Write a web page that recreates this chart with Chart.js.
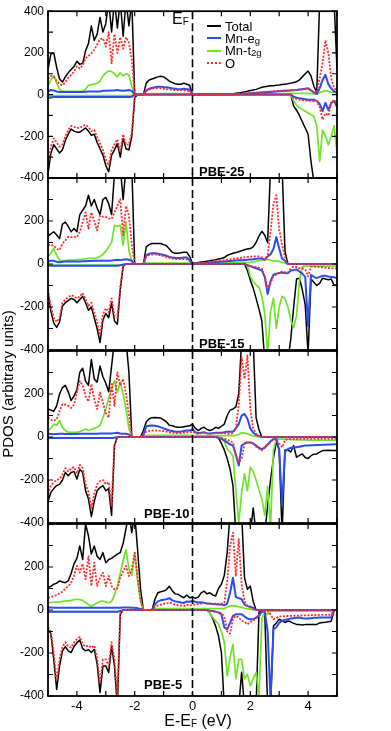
<!DOCTYPE html>
<html>
<head>
<meta charset="utf-8">
<script src="https://cdn.jsdelivr.net/npm/chart.js@4.4.1/dist/chart.umd.min.js"></script>
<style>
  body { margin: 0; background: #fff; width: 391px; height: 731px; position: relative; overflow: hidden;
         font-family: "Liberation Sans", Arial, sans-serif; color: #000; }
  canvas { position: absolute; left: 0; top: 0; }
  .txt { position: absolute; z-index: 5; white-space: nowrap; }
  .pbe { font-weight: bold; font-size: 13px; line-height: 14px; }
  .sub { font-size: 9.5px; position: relative; top: 2px; }
  #legend { left: 207px; top: 20px; font-size: 13px; }
  #legend .row { display: flex; align-items: center; height: 12.3px; }
  #legend .sw { display: inline-block; width: 14px; margin-right: 4px; }
</style>
</head>
<body>
<canvas id="p0" width="391" height="731"></canvas>
<canvas id="p1" width="391" height="731"></canvas>
<canvas id="p2" width="391" height="731"></canvas>
<canvas id="p3" width="391" height="731"></canvas>

<div class="txt" style="left:172px;top:10px;font-size:16px;">E<span class="sub" style="font-size:10px;top:1px">F</span></div>
<div class="txt" id="legend">
  <div class="row"><span class="sw" style="border-top:2px solid #000"></span>Total</div>
  <div class="row"><span class="sw" style="border-top:2px solid #2a4cf0"></span>Mn-e<span class="sub">g</span></div>
  <div class="row"><span class="sw" style="border-top:2px solid #6fe32a"></span>Mn-t<span class="sub">2g</span></div>
  <div class="row"><span class="sw" style="border-top:2px dotted #ff2b2b"></span>O</div>
</div>
<div class="txt pbe" style="left:199px;top:165px;">PBE-25</div>
<div class="txt pbe" style="left:199px;top:337px;">PBE-15</div>
<div class="txt pbe" style="left:144px;top:507px;">PBE-10</div>
<div class="txt pbe" style="left:144px;top:678px;">PBE-5</div>
<div class="txt" style="left:-92px;top:375px;width:200px;height:18px;text-align:center;font-size:15px;line-height:18px;transform:rotate(-90deg);">PDOS (arbitrary units)</div>
<div class="txt" style="left:98px;top:712px;width:200px;text-align:center;font-size:16px;line-height:18px;">E-E<span class="sub" style="font-size:10px;top:1px">F</span> (eV)</div>

<script>
// energy grid (eV) shared by all curves
const energy = [
  -5,-4.9,-4.8,-4.7,-4.6,-4.5,-4.4,-4.3,-4.2,-4.1,
  -4,-3.9,-3.8,-3.7,-3.6,-3.5,-3.4,-3.3,-3.2,-3.1,
  -3,-2.9,-2.8,-2.7,-2.6,-2.5,-2.4,-2.3,-2.2,-2.1,
  -2,-1.9,-1.8,-1.7,-1.6,-1.5,-1.4,-1.3,-1.2,-1.1,
  -1,-0.9,-0.8,-0.7,-0.6,-0.5,-0.4,-0.3,-0.2,-0.1,
  0,0.1,0.2,0.3,0.4,0.5,0.6,0.7,0.8,0.9,
  1,1.1,1.2,1.3,1.4,1.5,1.6,1.7,1.8,1.9,
  2,2.1,2.2,2.3,2.4,2.5,2.6,2.7,2.8,2.9,
  3,3.1,3.2,3.3,3.4,3.5,3.6,3.7,3.8,3.9,
  4,4.1,4.2,4.3,4.4,4.5,4.6,4.7,4.8,4.9,
  5
];
const xTicks = [-5,-4,-3,-2,-1,0,1,2,3,4,5];
const yTicks = [-400,-300,-200,-100,0,100,200,300,400];
const panelNames = ['PBE-25','PBE-15','PBE-10','PBE-5'];

// ---------- PBE-25 ----------
const totUp25 = [
  120,195,200,130,75,60,85,105,120,135,
  160,145,150,210,245,330,260,290,370,300,
  340,450,300,450,320,450,280,450,330,450,
  0,0,0,0,55,70,75,80,85,88,
  85,75,65,58,52,50,50,55,50,45,
  0,0,0,0,0,0,0,0,0,0,
  0,0,0,0,3,6,8,10,13,16,
  20,22,25,30,35,38,40,42,43,45,
  46,48,50,52,55,58,62,70,85,100,
  113,90,40,10,450,450,450,450,450,450,
  120];
const egUp25 = [
  15,22,20,15,12,12,12,12,12,12,
  12,12,12,14,15,15,15,15,15,18,
  18,18,20,20,22,20,18,20,22,18,
  0,0,0,0,20,28,32,35,38,38,
  36,35,33,30,28,26,26,28,26,24,
  0,0,0,0,0,0,0,0,0,0,
  0,0,0,0,1,2,3,3,4,5,
  6,7,8,9,10,11,12,13,14,15,
  16,17,18,19,20,21,22,24,26,28,
  30,20,10,3,30,70,95,50,30,15,
  10];
const t2gUp25 = [
  43,70,90,55,25,15,15,15,15,15,
  15,15,18,25,45,48,50,55,65,90,
  105,113,110,100,85,105,90,100,95,40,
  0,0,0,0,3,4,5,5,5,5,
  5,5,5,5,5,5,5,5,5,4,
  0,0,0,0,0,0,0,0,0,0,
  0,0,0,0,0,0,0,0,0,0,
  1,1,2,2,3,3,3,4,4,4,
  4,5,5,5,5,6,6,6,6,6,
  6,5,3,2,10,15,20,15,10,10,
  8];
const oUp25 = [
  75,90,85,65,50,45,60,80,95,110,
  136,125,140,175,185,198,215,240,265,270,
  230,300,150,290,200,275,220,275,250,167,
  0,0,0,0,18,25,28,30,30,30,
  28,26,24,22,22,22,22,20,18,16,
  0,0,0,0,0,0,0,0,0,0,
  0,0,0,0,2,3,4,5,6,7,
  8,9,10,11,12,13,14,15,16,17,
  18,19,20,20,21,22,23,24,25,27,
  28,20,10,10,80,150,260,200,80,30,
  20];
const totDn25 = [
  -380,-280,-240,-260,-280,-265,-220,-190,-165,-175,
  -180,-180,-170,-160,-175,-195,-190,-230,-260,-290,
  -340,-370,-290,-265,-235,-300,-210,-260,-265,-200,
  -15,0,0,0,0,0,0,0,0,0,
  0,0,0,0,0,0,0,0,0,0,
  0,0,0,0,0,0,0,0,0,0,
  0,0,0,0,0,0,0,0,0,0,
  0,0,0,0,0,0,0,0,0,0,
  0,0,0,0,0,-55,-75,-100,-130,-160,
  -190,-320,-420,-450,-450,-450,-450,-450,-450,-450,
  -450];
const egDn25 = [
  -18,-14,-12,-12,-12,-12,-12,-12,-12,-12,
  -12,-12,-12,-12,-12,-12,-12,-12,-12,-12,
  -12,-12,-12,-12,-12,-12,-12,-12,-12,-10,
  0,0,0,0,0,0,0,0,0,0,
  0,0,0,0,0,0,0,0,0,0,
  0,0,0,0,0,0,0,0,0,0,
  0,0,0,0,0,0,0,0,0,0,
  0,0,0,0,0,0,0,0,0,0,
  0,0,0,0,0,-10,-15,-18,-20,-22,
  -25,-25,-25,-30,-45,-80,-40,-75,-40,-30,
  -60];
const t2gDn25 = [
  -10,-6,-5,-5,-5,-5,-5,-5,-5,-5,
  -5,-5,-5,-5,-5,-5,-5,-5,-5,-5,
  -5,-5,-5,-5,-5,-5,-5,-5,-5,-4,
  0,0,0,0,0,0,0,0,0,0,
  0,0,0,0,0,0,0,0,0,0,
  0,0,0,0,0,0,0,0,0,0,
  0,0,0,0,0,0,0,0,0,0,
  0,0,0,0,0,0,0,0,0,0,
  0,0,0,0,0,-30,-50,-62,-72,-80,
  -88,-95,-105,-150,-320,-170,-200,-240,-200,-150,
  -280];
const oDn25 = [
  -330,-250,-210,-230,-250,-240,-200,-170,-150,-155,
  -160,-160,-150,-145,-155,-175,-170,-205,-235,-265,
  -310,-340,-265,-240,-215,-275,-190,-240,-240,-180,
  -12,0,0,0,0,0,0,0,0,0,
  0,0,0,0,0,0,0,0,0,0,
  0,0,0,0,0,0,0,0,0,0,
  0,0,0,0,0,0,0,0,0,0,
  0,0,0,0,0,0,0,0,0,0,
  0,0,0,0,0,-18,-20,-24,-26,-28,
  -30,-30,-32,-30,-60,-120,-90,-100,-40,-25,
  -50];

// ---------- PBE-15 ----------
const totUp15 = [
  130,140,150,135,118,185,195,175,150,165,
  150,230,250,270,320,270,300,260,230,300,
  310,280,230,420,450,450,300,450,450,450,
  0,0,0,0,80,90,95,95,95,95,
  90,85,70,55,50,50,52,55,55,35,
  3,5,7,9,11,13,15,18,20,23,
  26,30,40,45,50,53,57,62,66,70,
  72,80,100,130,152,134,100,450,450,450,
  450,450,60,0,0,0,0,0,0,0,
  0,0,0,0,0,0,0,0,0,0,
  0];
const egUp15 = [
  12,15,15,10,8,10,12,12,12,12,
  12,12,13,13,14,14,15,15,15,15,
  15,15,16,18,20,18,20,22,20,15,
  0,0,0,0,40,48,50,50,48,45,
  42,38,33,30,28,28,28,30,30,18,
  1,2,3,4,5,6,7,8,9,10,
  11,12,13,14,15,16,17,18,19,20,
  21,22,24,26,25,20,35,45,70,125,
  72,25,15,0,0,0,0,0,0,0,
  0,0,0,0,0,0,0,0,0,0,
  0];
const t2gUp15 = [
  34,50,72,40,18,15,16,18,18,18,
  20,20,22,24,26,26,26,28,35,45,
  60,80,100,180,175,180,88,195,65,10,
  0,0,0,0,4,4,4,4,4,4,
  4,4,4,4,4,4,4,4,4,3,
  1,1,2,2,2,3,3,3,3,4,
  4,4,5,5,5,5,6,6,6,7,
  8,10,12,15,18,20,20,18,15,15,
  12,8,4,0,0,0,0,0,0,0,
  0,0,0,0,0,0,0,0,0,0,
  0];
const oUp15 = [
  88,90,85,70,65,95,110,126,125,126,
  125,150,195,240,165,240,200,156,225,220,
  218,212,210,240,270,302,134,270,225,88,
  0,0,0,0,35,42,44,45,43,40,
  36,32,28,25,23,23,23,23,22,14,
  2,3,4,5,6,7,9,10,12,14,
  15,18,20,22,24,25,27,29,31,33,
  34,35,36,35,30,20,40,150,280,320,
  160,90,30,0,0,0,0,0,0,0,
  0,0,0,0,0,0,0,0,0,0,
  0];
const totDn15 = [
  -130,-220,-275,-295,-270,-195,-180,-170,-160,-165,
  -180,-165,-150,-180,-215,-200,-250,-300,-365,-260,
  -230,-250,-180,-265,-280,-120,-10,0,0,0,
  0,0,0,0,0,0,0,0,0,0,
  0,0,0,0,0,0,0,0,0,0,
  0,0,0,0,0,0,0,0,0,0,
  0,0,0,0,0,0,0,0,0,-30,
  -75,-112,-160,-210,-265,-450,-450,-450,-450,-450,
  -450,-450,-450,-450,-350,-200,-70,-66,-120,-190,
  -420,-70,-85,-100,-90,-66,-70,-73,-70,-100,
  -95];
const egDn15 = [
  -8,-8,-8,-8,-8,-8,-8,-8,-8,-8,
  -8,-8,-8,-8,-8,-8,-8,-8,-8,-8,
  -8,-8,-8,-8,-8,-6,-3,0,0,0,
  0,0,0,0,0,0,0,0,0,0,
  0,0,0,0,0,0,0,0,0,0,
  0,0,0,0,0,0,0,0,0,0,
  0,0,0,0,0,0,0,0,0,-5,
  -10,-15,-20,-25,-30,-60,-140,-80,-50,-45,
  -42,-40,-42,-43,-30,-28,-25,-35,-45,-60,
  -290,-50,-60,-66,-60,-55,-55,-58,-60,-62,
  -66];
const t2gDn15 = [
  -5,-5,-5,-5,-5,-5,-5,-5,-5,-5,
  -5,-5,-5,-5,-5,-5,-5,-5,-5,-5,
  -5,-5,-5,-5,-5,-4,-2,0,0,0,
  0,0,0,0,0,0,0,0,0,0,
  0,0,0,0,0,0,0,0,0,0,
  0,0,0,0,0,0,0,0,0,0,
  0,0,0,0,0,0,0,0,0,-5,
  -58,-80,-97,-108,-150,-230,-420,-220,-160,-300,
  -200,-150,-160,-200,-260,-296,-240,-80,-12,-10,
  -10,-10,-10,-10,-10,-10,-10,-10,-10,-10,
  -10];
const oDn15 = [
  -120,-200,-250,-270,-250,-180,-165,-155,-145,-150,
  -160,-150,-135,-165,-195,-180,-225,-270,-330,-235,
  -205,-225,-160,-240,-250,-105,-8,0,0,0,
  0,0,0,0,0,0,0,0,0,0,
  0,0,0,0,0,0,0,0,0,0,
  0,0,0,0,0,0,0,0,0,0,
  0,0,0,0,0,0,0,0,0,-5,
  -10,-12,-15,-18,-22,-60,-110,-90,-55,-50,
  -40,-35,-38,-40,-20,-12,-15,-20,-20,-25,
  -58,-12,-12,-14,-15,-15,-18,-18,-20,-20,
  -20];

// ---------- PBE-10 ----------
const totUp10 = [
  130,125,120,145,200,230,240,210,170,190,
  220,300,320,260,240,360,270,255,330,280,
  250,210,330,450,420,450,450,450,300,0,
  0,0,0,30,70,85,90,91,90,88,
  80,70,55,52,48,45,45,48,50,52,
  60,40,30,40,45,35,30,35,45,40,
  50,60,100,125,130,140,200,450,450,450,
  450,450,90,35,0,0,0,0,0,0,
  0,0,0,0,0,0,0,0,0,0,
  0,0,0,0,0,0,0,0,0,0,
  0];
const egUp10 = [
  15,14,13,14,15,15,14,14,14,14,
  14,15,15,15,15,15,15,15,16,16,
  16,16,16,18,20,16,15,15,12,0,
  0,0,0,10,50,52,53,52,50,45,
  40,35,30,28,25,25,25,28,30,30,
  35,22,18,20,22,18,16,18,20,20,
  20,22,25,25,25,40,60,100,107,85,
  40,20,10,5,0,0,0,0,0,0,
  0,0,0,0,0,0,0,0,0,0,
  0,0,0,0,0,0,0,0,0,0,
  0];
const t2gUp10 = [
  30,40,60,55,76,45,30,22,22,22,
  22,25,30,37,30,35,40,45,53,90,
  130,180,223,262,208,255,200,130,40,0,
  0,0,0,4,8,8,8,8,8,8,
  8,8,8,8,8,8,8,8,8,8,
  6,6,6,6,6,6,6,6,6,6,
  6,6,6,6,6,8,12,20,18,15,
  10,5,3,0,0,0,0,0,0,0,
  0,0,0,0,0,0,0,0,0,0,
  0,0,0,0,0,0,0,0,0,0,
  0];
const oUp10 = [
  91,80,75,83,120,153,150,145,135,150,
  207,260,240,190,165,246,176,130,207,160,
  110,90,254,145,300,240,270,200,100,0,
  0,0,0,10,25,28,30,30,30,28,
  27,25,22,20,18,18,18,20,22,22,
  25,18,15,18,20,16,14,16,18,18,
  18,18,16,15,18,40,150,370,270,380,
  130,40,15,5,0,0,0,0,0,0,
  0,0,0,0,0,0,0,0,0,0,
  0,0,0,0,0,0,0,0,0,0,
  0];
const totDn10 = [
  -300,-257,-240,-226,-220,-200,-165,-180,-165,-160,
  -195,-150,-165,-250,-288,-370,-300,-250,-235,-226,
  -250,-240,-365,-40,0,0,0,0,0,0,
  0,0,0,0,0,0,0,0,0,0,
  0,0,0,0,0,0,0,0,0,0,
  0,0,0,0,0,0,0,0,0,-5,
  -30,-60,-100,-150,-226,-450,-450,-450,-450,-450,
  -450,-330,-450,-450,-450,-450,-320,-200,-100,-20,
  -60,-450,-60,-60,-70,-40,-94,-85,-79,-95,
  -100,-87,-80,-79,-70,-63,-63,-62,-63,-63,
  -63];
const egDn10 = [
  -5,-5,-5,-5,-5,-5,-5,-5,-5,-5,
  -5,-5,-5,-5,-5,-5,-5,-5,-5,-5,
  -5,-5,-5,-3,0,0,0,0,0,0,
  0,0,0,0,0,0,0,0,0,0,
  0,0,0,0,0,0,0,0,0,0,
  0,0,0,0,0,0,0,0,0,-3,
  -9,-15,-25,-35,-40,-80,-133,-40,-30,-25,
  -25,-30,-40,-50,-56,-50,-35,-20,-10,-9,
  -60,-318,-70,-56,-50,-48,-48,-45,-42,-40,
  -40,-38,-38,-37,-37,-36,-36,-35,-35,-34,
  -34];
const t2gDn10 = [
  -5,-5,-5,-5,-5,-5,-5,-5,-5,-5,
  -5,-5,-5,-5,-5,-5,-5,-5,-5,-5,
  -5,-5,-5,-3,0,0,0,0,0,0,
  0,0,0,0,0,0,0,0,0,0,
  0,0,0,0,0,0,0,0,0,0,
  0,0,0,0,0,0,0,0,0,-3,
  -9,-20,-56,-70,-87,-250,-400,-260,-172,-250,
  -140,-160,-200,-245,-288,-365,-230,-420,-60,-10,
  -10,-10,-10,-10,-12,-12,-13,-13,-14,-14,
  -15,-15,-15,-15,-15,-15,-15,-15,-15,-15,
  -15];
const oDn10 = [
  -265,-225,-210,-200,-195,-175,-145,-160,-145,-140,
  -170,-130,-145,-220,-255,-330,-265,-220,-205,-200,
  -220,-210,-320,-35,0,0,0,0,0,0,
  0,0,0,0,0,0,0,0,0,0,
  0,0,0,0,0,0,0,0,0,0,
  0,0,0,0,0,0,0,0,0,-2,
  -3,-8,-12,-20,-25,-90,-118,-100,-30,-25,
  -25,-30,-45,-55,-63,-45,-35,-25,-10,-10,
  -30,-48,-15,-10,-9,-9,-9,-9,-9,-9,
  -9,-9,-9,-9,-9,-9,-9,-9,-9,-9,
  -9];

// ---------- PBE-5 ----------
const totUp5 = [
  104,110,120,125,135,130,127,135,170,215,
  240,298,235,400,345,260,298,250,235,267,
  220,235,240,251,260,267,310,380,450,360,
  450,280,100,0,0,0,0,50,80,85,
  88,95,110,90,75,73,65,57,70,57,
  60,55,60,80,88,75,80,70,65,100,
  120,160,267,450,450,450,450,450,150,96,
  111,40,0,0,0,0,0,0,0,0,
  0,0,0,0,0,0,0,0,0,0,
  0,0,0,0,0,0,0,0,0,0,
  0];
const egUp5 = [
  12,12,11,11,10,10,10,10,10,10,
  10,10,10,10,10,10,10,10,10,10,
  10,10,10,10,10,10,12,12,12,10,
  10,8,5,0,0,0,0,25,40,45,
  48,50,55,45,40,38,35,33,40,38,
  42,38,35,36,34,30,30,28,27,26,
  25,22,30,80,150,60,55,50,25,18,
  15,10,0,0,0,0,0,0,0,0,
  0,0,0,0,0,0,0,0,0,0,
  0,0,0,0,0,0,0,0,0,0,
  0];
const t2gUp5 = [
  34,35,36,37,38,40,42,42,45,48,
  50,48,45,35,25,18,25,32,40,42,
  38,34,40,70,110,170,230,280,190,160,
  267,140,40,0,0,0,0,5,6,6,
  6,6,6,6,6,6,6,6,6,6,
  6,6,6,6,6,6,6,6,6,6,
  6,6,15,18,20,18,15,12,8,5,
  4,2,0,0,0,0,0,0,0,0,
  0,0,0,0,0,0,0,0,0,0,
  0,0,0,0,0,0,0,0,0,0,
  0];
const oUp5 = [
  57,60,65,70,78,85,100,111,125,160,
  205,174,215,143,251,112,220,112,150,174,
  111,158,110,96,100,150,180,205,158,190,
  267,150,50,0,0,0,0,15,20,25,
  28,30,35,30,25,22,20,18,25,20,
  26,25,28,30,33,30,28,30,30,28,
  30,34,130,300,360,160,330,120,40,20,
  10,5,0,0,0,0,0,0,0,0,
  0,0,0,0,0,0,0,0,0,0,
  0,0,0,0,0,0,0,0,0,0,
  0];
const totDn5 = [
  -90,-110,-230,-370,-260,-190,-170,-190,-198,-170,
  -152,-140,-180,-190,-185,-198,-183,-250,-384,-260,
  -260,-291,-167,-260,-450,-20,0,0,0,0,
  0,0,0,0,0,0,0,0,0,0,
  0,0,0,0,0,0,0,0,0,0,
  0,0,0,0,0,0,-15,-40,-75,-121,
  -198,-450,-450,-450,-450,-450,-450,-290,-450,-450,
  -450,-450,-450,-10,-5,-10,-450,-450,-75,-60,
  -43,-50,-58,-51,-55,-62,-67,-68,-70,-68,
  -67,-68,-67,-67,-60,-58,-57,-55,-52,0,
  0];
const egDn5 = [
  -8,-8,-8,-8,-8,-8,-8,-8,-8,-8,
  -8,-8,-8,-8,-8,-8,-8,-8,-8,-8,
  -8,-8,-8,-8,-8,-5,0,0,0,0,
  0,0,0,0,0,0,0,0,0,0,
  0,0,0,0,0,0,0,0,0,0,
  0,0,0,0,0,0,-3,-5,-8,-12,
  -20,-80,-90,-60,-27,-20,-20,-20,-30,-40,
  -43,-43,-35,-25,-8,-5,-100,-420,-90,-80,
  -60,-50,-45,-43,-40,-38,-36,-35,-38,-40,
  -40,-38,-36,-36,-35,-35,-35,-35,-35,0,
  0];
const t2gDn5 = [
  -8,-8,-8,-8,-8,-8,-8,-8,-8,-8,
  -8,-8,-8,-8,-8,-8,-8,-8,-8,-8,
  -8,-8,-8,-8,-8,-5,0,0,0,0,
  0,0,0,0,0,0,0,0,0,0,
  0,0,0,0,0,0,0,0,0,0,
  0,0,0,0,0,-3,-15,-35,-51,-65,
  -100,-150,-307,-220,-160,-320,-230,-230,-320,-300,
  -353,-320,-290,-400,-40,-10,-20,-5,-5,-5,
  -5,-5,-5,-5,-5,-5,-5,-5,-5,-5,
  -5,-5,-5,-5,-5,-5,-5,-5,-6,0,
  0];
const oDn5 = [
  -80,-100,-200,-330,-230,-170,-150,-170,-175,-150,
  -135,-125,-160,-170,-165,-175,-165,-225,-340,-230,
  -230,-260,-150,-230,-400,-18,0,0,0,0,
  0,0,0,0,0,0,0,0,0,0,
  0,0,0,0,0,0,0,0,0,0,
  0,0,0,0,0,0,-3,-5,-8,-10,
  -15,-30,-100,-110,-40,-28,-35,-50,-55,-67,
  -55,-50,-38,-30,-9,-6,-5,-20,-43,-38,
  -30,-30,-28,-28,-27,-27,-26,-26,-25,-25,
  -25,-24,-24,-24,-23,-23,-23,-22,-22,0,
  0];

// series order: Total, Mn-eg, Mn-t2g, O  (spin up / spin down)
const panelData = [
  { up: [totUp25, egUp25, t2gUp25, oUp25], dn: [totDn25, egDn25, t2gDn25, oDn25] },
  { up: [totUp15, egUp15, t2gUp15, oUp15], dn: [totDn15, egDn15, t2gDn15, oDn15] },
  { up: [totUp10, egUp10, t2gUp10, oUp10], dn: [totDn10, egDn10, t2gDn10, oDn10] },
  { up: [totUp5, egUp5, t2gUp5, oUp5], dn: [totDn5, egDn5, t2gDn5, oDn5] }
];

const series = [
  { name: 'Total',  color: '#000000', width: 1.5, dash: [],       order: 4 },
  { name: 'Mn-eg',  color: '#2a4cf0', width: 2,   dash: [],       order: 2 },
  { name: 'Mn-t2g', color: '#6fe32a', width: 1.7, dash: [],       order: 3 },
  { name: 'O',      color: '#ff2b2b', width: 1.8, dash: [2, 1.5], order: 1 }
];

const panelTop = [6, 178, 351, 524];
const panelH = 172;
const xAxisH = 22;

Chart.defaults.font.family = '"Liberation Sans", Arial, sans-serif';
Chart.defaults.color = '#000';

// frame, inward ticks and the dashed Fermi level line
const framePlugin = {
  id: 'frame',
  afterDatasetsDraw(chart) {
    const { ctx, chartArea: a } = chart;
    const x = chart.scales.x, y = chart.scales.y;
    ctx.save();
    const x0 = x.getPixelForValue(0);
    ctx.strokeStyle = '#000';
    ctx.lineWidth = 1.6;
    ctx.setLineDash([8, 4]);
    ctx.beginPath();
    ctx.moveTo(x0, a.top);
    ctx.lineTo(x0, a.bottom);
    ctx.stroke();
    ctx.setLineDash([]);

    ctx.lineWidth = 1.2;
    ctx.beginPath();
    xTicks.forEach(v => {
      const px = x.getPixelForValue(v);
      ctx.moveTo(px, a.top); ctx.lineTo(px, a.top + 5);
      ctx.moveTo(px, a.bottom); ctx.lineTo(px, a.bottom - 5);
    });
    yTicks.forEach(v => {
      const py = y.getPixelForValue(v);
      ctx.moveTo(a.left, py); ctx.lineTo(a.left + 5, py);
      ctx.moveTo(a.right, py); ctx.lineTo(a.right - 5, py);
    });
    ctx.stroke();

    ctx.lineWidth = 1.8;
    ctx.strokeRect(a.left, a.top, a.right - a.left, a.bottom - a.top);
    ctx.restore();
  }
};

panelData.forEach((pd, k) => {
  const top = panelTop[k];
  const last = k === panelData.length - 1;
  const datasets = [];
  series.forEach((s, j) => {
    [pd.up[j], pd.dn[j]].forEach(vals => {
      datasets.push({
        label: s.name,
        data: energy.map((e, i) => ({ x: e, y: vals[i] })),
        borderColor: s.color,
        borderWidth: s.width,
        borderDash: s.dash,
        borderJoinStyle: 'round',
        pointRadius: 0,
        tension: 0,
        fill: false,
        order: s.order
      });
    });
  });

  new Chart(document.getElementById('p' + k), {
    type: 'line',
    data: { datasets },
    options: {
      responsive: false,
      animation: false,
      devicePixelRatio: 1,
      layout: {
        padding: {
          left: 0,
          right: 54,
          top: top,
          bottom: 731 - top - panelH - (last ? xAxisH : 0)
        }
      },
      plugins: { legend: { display: false }, tooltip: { enabled: false } },
      scales: {
        x: {
          type: 'linear', min: -5, max: 5,
          display: last,
          grid: { display: false, drawTicks: false },
          border: { display: false },
          ticks: {
            stepSize: 1, autoSkip: false, maxRotation: 0, padding: 3,
            font: { size: 13 },
            callback: v => (v % 2 === 0 ? String(v) : '')
          },
          afterFit: s => { s.height = last ? xAxisH : 0; }
        },
        y: {
          min: -400, max: 400,
          grid: { display: false, drawTicks: false },
          border: { display: false },
          ticks: {
            stepSize: 100, autoSkip: false, padding: 4,
            font: { size: 12 },
            callback: v => (v % 200 === 0 && (k === 0 || v < 400) ? String(v) : '')
          },
          afterFit: s => { s.width = 48; }
        }
      }
    },
    plugins: [framePlugin]
  });
});
</script>
</body>
</html>
